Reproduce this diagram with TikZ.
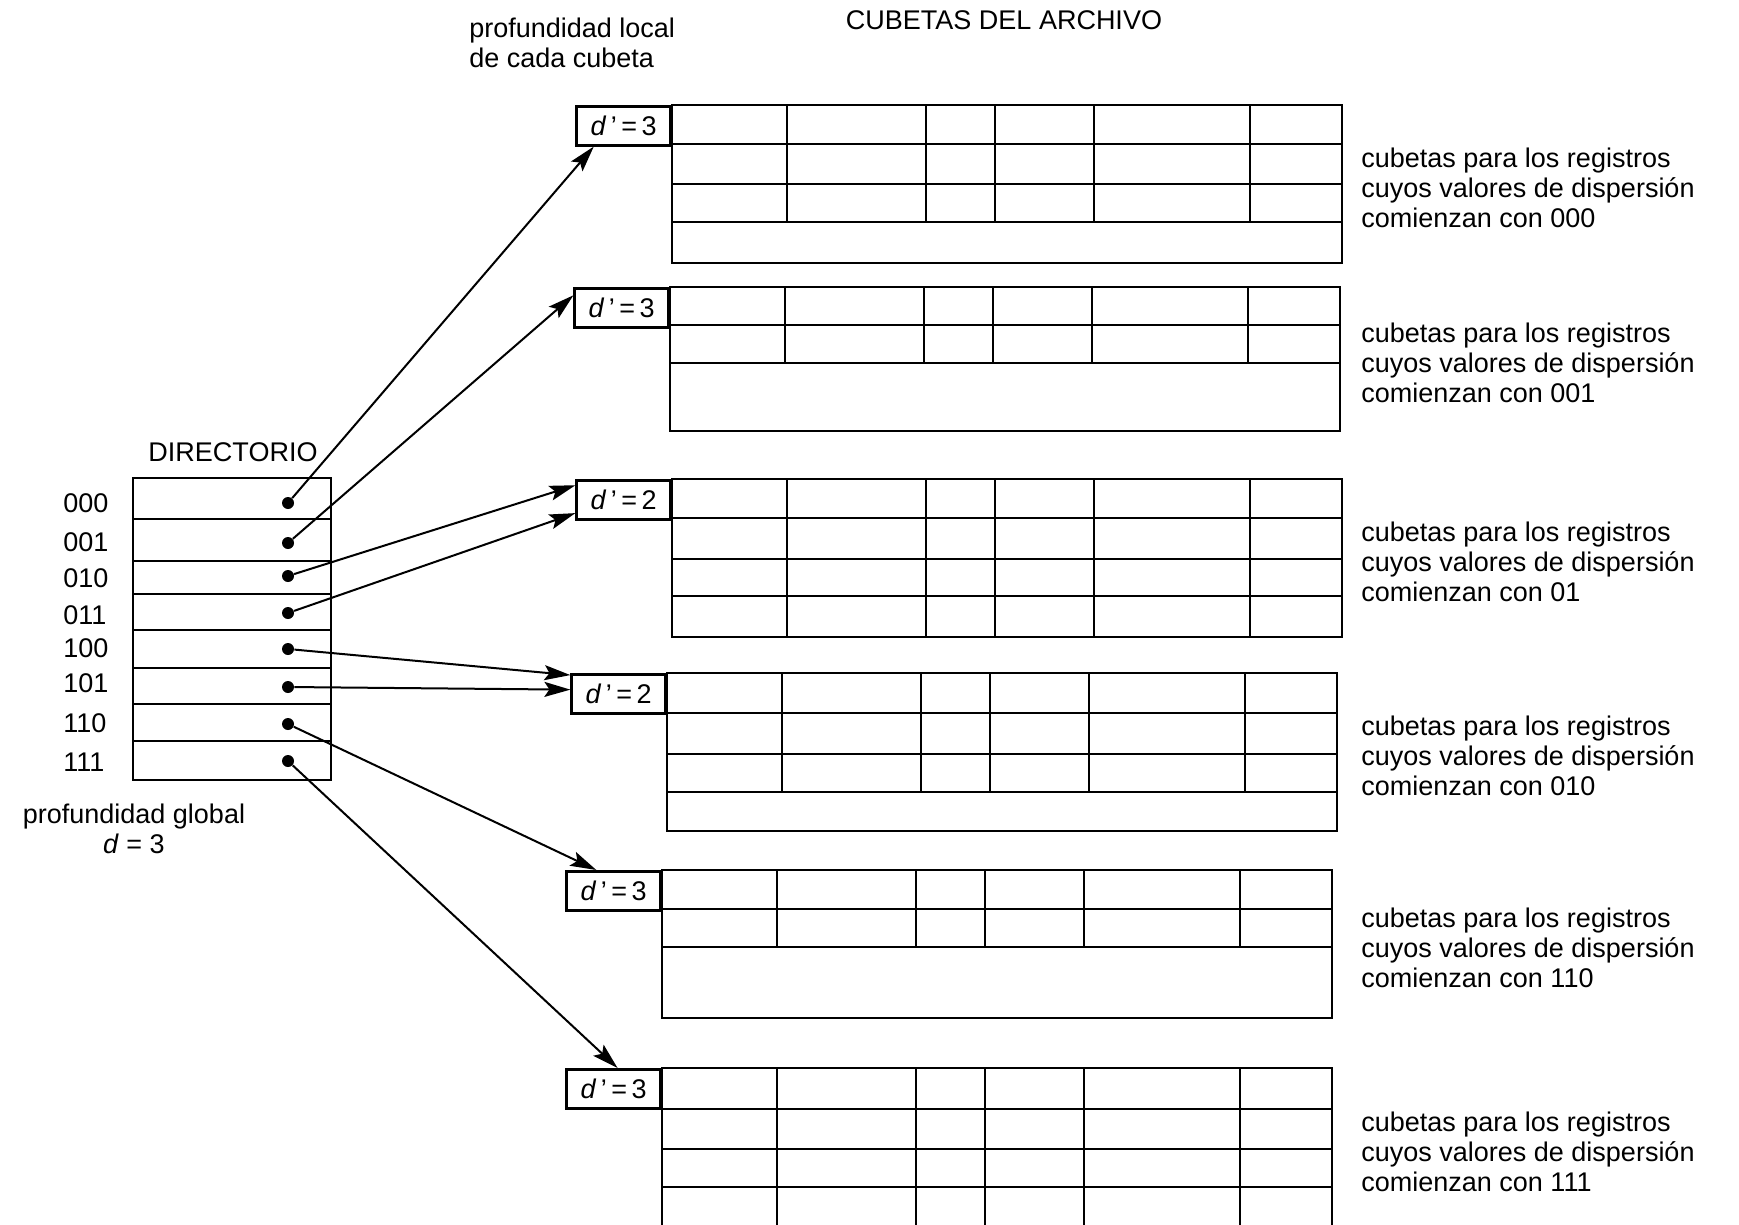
\documentclass[tikz,border=0pt]{standalone}
\usepackage{fontspec}
\setmainfont{Liberation Sans}
\usepackage{tikz}
\usetikzlibrary{arrows.meta,calc}

\begin{document}
\begin{tikzpicture}[
    x=0.5pt, y=-0.5pt,
    cell/.style={line width=1.3pt},
    ptr/.style={-{Stealth[length=13pt,width=7.5pt,inset=2.5pt]}, line width=1pt},
    txt/.style={font=\fontsize{13.5pt}{15pt}\selectfont, inner sep=0pt},
    dbox/.style={draw, line width=1.3pt, minimum width=47pt, minimum height=19.5pt,
                 inner sep=0pt, font=\fontsize{13.5pt}{15pt}\selectfont},
    dot/.style={circle, fill, inner sep=0pt, minimum size=6pt},
]
\useasboundingbox (0,0) rectangle (1739,1225);

% Headings
\node[txt, align=left, anchor=west] (hloc) at (469,43) {profundidad local\\de cada cubeta};
\node[txt] (harch) at (1004,20) {CUBETAS DEL ARCHIVO};

% Directory
\node[txt] (hdir) at (233,452) {DIRECTORIO};
\draw[cell] (133,478) rectangle (331,780);
\foreach \r in {519,561,594,630,668,704,741} {
    \draw[cell] (133,\r) -- (331,\r);
}
\foreach \b/\yl/\yd in {000/503/503, 001/542/543, 010/578/576, 011/615/613,
                        100/648/649, 101/683/687, 110/723/724, 111/762/761} {
    \node[txt, anchor=west] (k\b) at (63,\yl) {\b};
    \node[dot] (p\b) at (288,\yd) {};
}
\node[txt, align=center] (hglob) at (134,829) {profundidad global\\\textit{d} = 3};

% Buckets: number / left of table / top / row lines / end of grid / bottom / d' / prefix
\foreach \n/\x/\y/\rows/\yg/\yb/\dd/\hv in {
    1/672/105/{144,184,222}/222/263/3/000,
    2/670/287/{325,363}/363/431/3/001,
    3/672/479/{518,559,596}/637/637/2/01,
    4/667/673/{713,754,792}/792/831/2/010,
    5/662/870/{909,947}/947/1018/3/110,
    6/662/1068/{1109,1149,1187}/1228/1228/3/111} {
    \draw[cell] (\x,\y) rectangle (\x+670,\yb);
    \foreach \r in \rows {
        \draw[cell] (\x,\r) -- (\x+670,\r);
    }
    \foreach \c in {115,254,323,422,578} {
        \draw[cell] (\x+\c,\y) -- (\x+\c,\yg);
    }
    \node[dbox, anchor=north east] (L\n) at (\x,\y) {\textit{d}\,'\,=\,\dd};
    \node[txt, align=left, anchor=west] (T\n) at (1361,{(\y+\yb)/2+4})
        {cubetas para los registros\\cuyos valores de dispersión\\comienzan con \hv};
}

% Pointers from directory to buckets
\draw[ptr] (p000) -- ($(L1.south west)!0.19!(L1.south east)$);
\draw[ptr] (p001) -- ($(L2.north west)!0.2!(L2.south west)$);
\draw[ptr] (p010) -- ($(L3.north west)!0.15!(L3.south west)$);
\draw[ptr] (p011) -- ($(L3.north west)!0.82!(L3.south west)$);
\draw[ptr] (p100) -- ($(L4.north west)!0.05!(L4.south west)$);
\draw[ptr] (p101) -- ($(L4.north west)!0.4!(L4.south west)$);
\draw[ptr] (p110) -- ($(L5.north west)!0.32!(L5.north east)$);
\draw[ptr] (p111) -- ($(L6.north west)!0.54!(L6.north east)$);
\end{tikzpicture}
\end{document}
